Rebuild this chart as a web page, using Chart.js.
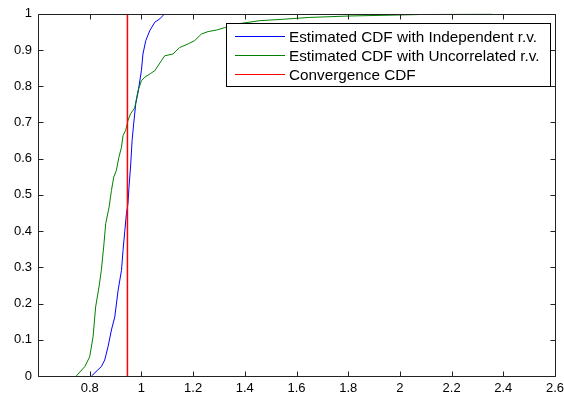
<!DOCTYPE html>
<html>
<head>
<meta charset="utf-8">
<script src="https://cdn.jsdelivr.net/npm/chart.js@4/dist/chart.umd.min.js"></script>
<style>
html,body{margin:0;padding:0;background:#fff;}
canvas{display:block;}
</style>
</head>
<body>
<canvas id="c" width="564" height="396"></canvas>
<script>
// ---- data ----
const seriesLabels = ['Estimated CDF with Independent r.v.', 'Estimated CDF with Uncorrelated r.v.', 'Convergence CDF'];
const seriesColors = ['#0000ff', '#008000', '#ff0000'];

const indepX = [0.807, 0.845, 0.858, 0.871, 0.884, 0.897, 0.910, 0.923, 0.929, 0.936, 0.942, 0.948, 0.952, 0.958, 0.964, 0.970, 0.978, 0.987, 1.000, 1.006, 1.017, 1.032, 1.052, 1.071, 1.090];
const indepY = [0.000, 0.026, 0.044, 0.081, 0.127, 0.163, 0.237, 0.292, 0.347, 0.402, 0.448, 0.476, 0.521, 0.577, 0.650, 0.696, 0.751, 0.783, 0.843, 0.889, 0.926, 0.953, 0.977, 0.986, 1.000];

const uncorrX = [0.748, 0.781, 0.800, 0.813, 0.823, 0.836, 0.845, 0.854, 0.862, 0.875, 0.884, 0.893, 0.903, 0.913, 0.923, 0.929, 0.939, 0.948, 0.958, 0.974, 0.987, 1.000, 1.013, 1.035, 1.052, 1.077, 1.090, 1.122, 1.148, 1.181, 1.206, 1.232, 1.258, 1.290, 1.323, 1.370, 1.458, 1.550, 1.650, 1.806, 1.950, 2.077, 2.200, 2.355];
const uncorrY = [0.000, 0.026, 0.053, 0.108, 0.191, 0.246, 0.292, 0.356, 0.421, 0.466, 0.512, 0.549, 0.567, 0.604, 0.632, 0.664, 0.678, 0.705, 0.724, 0.740, 0.788, 0.815, 0.825, 0.835, 0.843, 0.870, 0.884, 0.889, 0.907, 0.917, 0.926, 0.944, 0.951, 0.955, 0.962, 0.972, 0.981, 0.985, 0.990, 0.994, 0.996, 0.998, 0.999, 1.000];

const convergenceX = [0.946, 0.946];
const convergenceY = [0, 1];

const xTickValues = [0.8, 1, 1.2, 1.4, 1.6, 1.8, 2, 2.2, 2.4, 2.6];
const yTickValues = [0, 0.1, 0.2, 0.3, 0.4, 0.5, 0.6, 0.7, 0.8, 0.9, 1];

// ---- helpers ----
const pts = (xs, ys) => xs.map((x, i) => ({x: x, y: ys[i]}));
const fmt = v => String(Number(v.toFixed(1)));
const FONT = '"Liberation Sans", Arial, Helvetica, sans-serif';

const framePlugin = {
  id: 'frame',
  afterDraw(chart) {
    const ctx = chart.ctx, a = chart.chartArea;
    const xs = chart.scales.x, ys = chart.scales.y;
    ctx.save();
    ctx.strokeStyle = '#222';
    ctx.lineWidth = 1;
    const L = Math.round(a.left) + 0.5, R = Math.round(a.right) + 0.5;
    const T = Math.round(a.top) + 0.5, B = Math.round(a.bottom) + 0.5;
    ctx.beginPath();
    ctx.rect(L, T, R - L, B - T);
    const tl = 5;
    xTickValues.forEach(v => {
      const px = Math.round(xs.getPixelForValue(v)) + 0.5;
      ctx.moveTo(px, B); ctx.lineTo(px, B - tl);
      ctx.moveTo(px, T); ctx.lineTo(px, T + tl);
    });
    yTickValues.forEach(v => {
      const py = Math.round(ys.getPixelForValue(v)) + 0.5;
      ctx.moveTo(L, py); ctx.lineTo(L + tl, py);
      ctx.moveTo(R, py); ctx.lineTo(R - tl, py);
    });
    ctx.stroke();

    // legend box (inside, top-right)
    ctx.font = '15.3px ' + FONT;
    const labels = chart.data.datasets.map(d => d.label);
    const textW = Math.round(Math.max(...labels.map(t => ctx.measureText(t).width)));
    const boxR = Math.round(a.right - 5) + 0.5;
    const boxT = Math.round(a.top + 9) + 0.5;
    const padL = 62, padR = 12, rowH = 19;
    const boxL = boxR - padR - textW - padL;
    const boxB = boxT + 63;
    ctx.fillStyle = '#fff';
    ctx.fillRect(boxL, boxT, boxR - boxL, boxB - boxT);
    ctx.strokeStyle = '#000';
    ctx.strokeRect(boxL, boxT, boxR - boxL, boxB - boxT);
    chart.data.datasets.forEach((d, i) => {
      const y = Math.round(boxT + 12.5 + i * rowH) + 0.5;
      ctx.lineWidth = 1;
      ctx.strokeStyle = seriesColors[i];
      ctx.beginPath();
      ctx.moveTo(Math.round(boxL + 8), y); ctx.lineTo(Math.round(boxL + 58), y);
      ctx.stroke();
      ctx.fillStyle = '#000';
      ctx.textBaseline = 'middle';
      ctx.textAlign = 'left';
      ctx.fillText(d.label, Math.round(boxL + padL), y + 1);
    });
    ctx.restore();
  }
};

const mk = (i, xs, ys, order, w) => ({
  label: seriesLabels[i],
  data: pts(xs, ys),
  borderColor: seriesColors[i],
  backgroundColor: seriesColors[i],
  borderWidth: w,
  pointRadius: 0,
  tension: 0,
  fill: false,
  order: order
});

new Chart(document.getElementById('c'), {
  type: 'line',
  data: {
    datasets: [
      mk(0, indepX, indepY, 2, 1),
      mk(1, uncorrX, uncorrY, 1, 1),
      mk(2, convergenceX, convergenceY, 0, 1.5)
    ]
  },
  options: {
    responsive: false,
    animation: false,
    devicePixelRatio: 1,
    layout: {padding: {top: 13, right: 9, left: 0, bottom: 0}},
    plugins: {legend: {display: false}, tooltip: {enabled: false}},
    scales: {
      x: {
        type: 'linear', min: 0.6, max: 2.6,
        afterBuildTicks(s) { s.ticks = xTickValues.map(v => ({value: v})); },
        ticks: {callback: v => fmt(v), color: '#000', font: {family: FONT, size: 13}, padding: 5, maxRotation: 0, autoSkip: false},
        grid: {display: false, drawTicks: false},
        border: {display: false},
        afterFit(s) { s.height = 20; s.paddingRight = 0; }
      },
      y: {
        type: 'linear', min: 0, max: 1,
        afterBuildTicks(s) { s.ticks = yTickValues.map(v => ({value: v})); },
        ticks: {callback: v => fmt(v), color: '#000', font: {family: FONT, size: 13}, padding: 6, autoSkip: false},
        grid: {display: false, drawTicks: false},
        border: {display: false},
        afterFit(s) { s.width = 38; }
      }
    }
  },
  plugins: [framePlugin]
});
</script>
</body>
</html>
